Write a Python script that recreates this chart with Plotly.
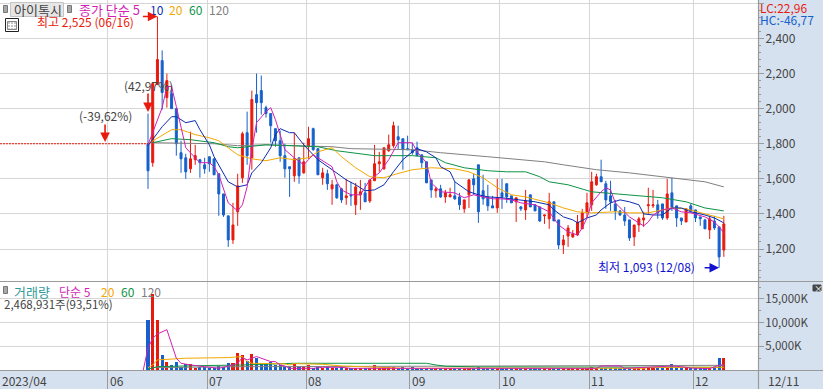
import plotly.graph_objects as go

# ---------- candles (daily prices, first candle = index 0) ----------
open_ = [1800,1692,2137,2274,2063,2086,2000,1749,1720,1657,
         1709,1709,1680,1726,1714,1629,1514,1389,1252,1412,
         1606,1863,1720,2080,2103,2006,1972,1886,1817,1732,
         1669,1617,1720,1634,1783,1886,1772,1606,1629,1543,
         1566,1543,1492,1509,1452,1509,1520,1474,1589,1686,
         1657,1760,1789,1840,1829,1772,1766,1777,1737,1697,
         1594,1532,1543,1497,1497,1503,1497,1429,1509,1600,
         1680,1532,1497,1446,1434,1520,1572,1503,1469,1440,
         1423,1509,1452,1440,1389,1372,1469,1366,1223,1274,
         1269,1280,1315,1412,1452,1566,1612,1572,1503,1457,
         1417,1394,1366,1269,1337,1366,1446,1446,1452,1457,
         1377,1520,1446,1377,1354,1446,1423,1383,1366,1309,
         1360,1326,1194]
high = [1972,2143,2525,2332,2200,2132,2000,1817,1743,1869,
        1794,1714,1720,1726,1714,1629,1514,1389,1463,1629,
        1869,1983,2103,2200,2189,2017,1972,1886,1875,1800,
        1669,1863,1720,1806,1897,1892,1772,1663,1652,1594,
        1572,1549,1600,1583,1577,1594,1577,1594,1794,1754,
        1777,1852,1926,1903,1829,1846,1806,1812,1737,1697,
        1594,1554,1566,1537,1549,1583,1520,1480,1600,1629,
        1680,1623,1566,1503,1600,1600,1572,1503,1492,1446,
        1537,1509,1452,1440,1394,1520,1469,1366,1280,1337,
        1309,1394,1429,1520,1640,1629,1709,1589,1589,1480,
        1423,1440,1366,1337,1383,1412,1549,1537,1480,1457,
        1600,1606,1446,1377,1434,1457,1423,1383,1372,1389,
        1389,1326,1389]
low = [1543,1669,2137,1994,2006,2000,1732,1634,1600,1634,
       1680,1606,1629,1640,1623,1389,1383,1212,1229,1332,
       1577,1680,1652,1863,1966,1949,1806,1783,1697,1606,
       1497,1583,1572,1629,1714,1760,1623,1566,1537,1452,
       1486,1463,1452,1446,1394,1423,1469,1463,1589,1640,
       1652,1754,1777,1766,1652,1766,1737,1732,1663,1577,
       1492,1492,1492,1463,1497,1480,1423,1406,1434,1509,
       1349,1452,1417,1434,1406,1429,1463,1463,1354,1417,
       1366,1440,1417,1354,1343,1315,1360,1200,1172,1212,
       1263,1274,1315,1377,1417,1560,1583,1429,1417,1366,
       1389,1332,1246,1217,1297,1326,1400,1434,1372,1366,
       1366,1417,1326,1337,1354,1406,1354,1332,1315,1257,
       1309,1093,1155]
close = [1646,2143,2280,2092,2160,2000,1800,1714,1640,1714,
         1732,1692,1657,1686,1623,1514,1394,1252,1337,1560,
         1857,1732,2052,2034,2034,1972,1903,1817,1732,1657,
         1657,1714,1617,1697,1829,1766,1623,1634,1572,1566,
         1492,1480,1503,1503,1554,1526,1469,1594,1686,1697,
         1777,1794,1903,1823,1766,1766,1749,1732,1692,1577,
         1537,1543,1497,1520,1509,1486,1452,1480,1594,1566,
         1412,1486,1446,1434,1492,1497,1497,1463,1492,1429,
         1474,1440,1417,1360,1394,1469,1360,1223,1252,1320,
         1286,1354,1406,1463,1583,1612,1583,1480,1469,1417,
         1394,1360,1263,1337,1372,1377,1452,1452,1406,1377,
         1514,1440,1377,1360,1429,1417,1377,1372,1315,1372,
         1320,1155,1343]
volume_k = [10635,16000,10600,3190,1700,1060,1700,700,1200,1200,
            350,570,570,350,350,900,700,1500,1500,3600,
            3200,1900,3400,2600,1200,1200,1600,1060,1060,850,
            640,1200,700,700,1060,350,700,350,570,350,
            350,570,430,430,500,430,430,500,1060,500,
            570,570,570,430,570,500,570,430,430,430,
            350,350,350,280,350,350,350,350,430,430,
            570,430,350,350,430,350,350,280,350,280,
            280,280,280,350,280,280,280,350,280,280,
            280,280,280,500,700,500,500,350,350,350,
            350,350,280,280,350,350,500,500,350,350,
            350,1200,500,350,350,500,350,280,280,430,
            430,2500,2469]

# ---------- price moving averages ----------
ma5_i = [0,1,2,3,4,5,6,7,8,10,11,13,14,15,16,17,19,20,21,22,23,24,25,26,27,28,29,31,33,34,35,36,39,40,41,43,45,47,49,51,52,53,56,57,59,60,62,65,67,69,71,73,75,77,79,82,85,86,87,89,91,92,93,94,96,97,98,99,101,102,104,105,106,107,109,111,113,115,118,120,121,122]
ma5_v = [1794,1863,1937,2006,2126,2126,2012,1897,1777,1720,1692,1692,1669,1623,1537,1463,1417,1452,1554,1766,1920,1954,1983,2006,1937,1852,1766,1720,1680,1709,1737,1720,1669,1583,1537,1509,1509,1594,1634,1709,1754,1806,1806,1754,1692,1577,1526,1520,1492,1509,1497,1486,1486,1480,1463,1452,1412,1377,1337,1297,1280,1320,1377,1463,1526,1549,1537,1463,1406,1383,1349,1332,1354,1394,1423,1434,1412,1406,1383,1354,1326,1292]
ma10_i = [0,1,3,5,6,8,10,11,13,14,16,17,19,21,22,24,26,27,28,30,31,33,35,36,39,42,44,46,48,50,52,54,56,57,59,61,62,64,65,68,70,72,75,79,82,85,86,88,90,91,93,95,96,98,100,102,104,105,107,109,111,113,115,118,120,122]
ma10_v = [1789,1823,1897,1954,1954,1920,1932,1880,1794,1726,1634,1583,1554,1566,1634,1692,1777,1852,1886,1863,1863,1794,1737,1709,1652,1594,1566,1532,1537,1566,1640,1709,1754,1772,1754,1720,1669,1640,1583,1526,1509,1497,1492,1480,1469,1452,1423,1383,1366,1349,1377,1394,1423,1463,1480,1469,1452,1400,1394,1394,1434,1434,1412,1394,1377,1349]
ma20_i = [0,3,5,7,10,13,15,17,19,22,25,28,31,34,36,39,41,44,47,50,52,56,60,65,68,71,74,77,80,85,88,91,94,99,102,106,111,114,118,122]
ma20_v = [1800,1846,1880,1880,1852,1834,1817,1777,1737,1714,1703,1720,1709,1720,1754,1777,1726,1663,1612,1606,1623,1652,1663,1657,1640,1606,1549,1509,1497,1463,1434,1412,1406,1412,1406,1406,1434,1429,1400,1372]
ma60_i = [1,5,9,14,17,19,25,31,36,40,43,48,56,61,63,67,72,76,80,83,85,89,94,102,109,114,118,122]
ma60_v = [1806,1829,1823,1806,1783,1777,1794,1789,1783,1760,1749,1732,1732,1720,1692,1663,1646,1640,1640,1612,1583,1566,1526,1509,1492,1469,1434,1417]
ma120_i = [1,14,19,25,39,43,56,62,72,79,84,88,95,102,111,118,122]
ma120_v = [1806,1800,1789,1794,1783,1772,1766,1749,1726,1709,1697,1680,1652,1634,1606,1583,1554]

# ---------- volume moving averages (thousand shares) ----------
vma5_i = [-1,0,1,2,4,5,6,7,9,12,15,18,19,20,21,23,25,26,27,28,29,30,35,37,41,43,60,75,95,96,100,101,111,113,115,119,121,122]
vma5_v = [0,4600,6700,7600,8500,5670,2480,1420,1060,700,350,1060,1420,2620,2130,2840,2130,1770,1770,1060,850,350,350,570,570,350,350,350,350,840,840,350,840,700,400,300,1000,1050]
vma20_i = [0,1,2,5,8,17,20,21,22,29,30,31,37,41,48,53,55,70,105,106,122]
vma20_v = [500,1060,2130,2340,2480,2620,2840,1770,1420,1280,1060,1350,1200,850,570,500,350,400,350,570,570]
vma60_i = [0,2,10,20,31,59,61,63,70,122]
vma60_v = [200,700,900,1060,1420,1420,1060,800,650,570]
vma120_i = [1,20,60,122]
vma120_v = [500,700,800,990]

# ---------- axis labels ----------
month_first_index = [-8, 13, 34, 56, 75, 94, 116]
month_labels = ["06", "07", "08", "09", "10", "11", "12"]
first_label = "2023/04"
last_label = "12/11"
base_price = 1800
vol_tick_vals = [5000, 10000, 15000]
vol_tick_text = ["5,000K", "10,000K", "15,000K"]

RED, BLUE = "#e81a0e", "#1560cc"
MAG, NAVY, ORG, GRN, GRY = "#d21fb4", "#0b2cae", "#f2a900", "#0d9444", "#808080"
GRID, FRAME, TXT = "#d6d6d6", "#9a9a9a", "#444444"
BAND = "#d6e1ef"
FONT = "Noto Sans CJK KR, Liberation Sans"

W, H, PW, PH = 823, 389, 758, 370
STEP = 4.72
X0 = 148

def X(p): return p / PW
def Y(p): return (PH - p) / PH

idx = list(range(len(close)))
x_range = [-X0 / STEP, (PW - X0) / STEP]
month_ticks = [m - 0.5 for m in month_first_index]

fig = go.Figure()
fig.add_trace(go.Scatter(x=[x_range[0], 0], y=[base_price, base_price], mode="lines",
                         line=dict(color=RED, width=1, dash="2px,1px"), xaxis="x", yaxis="y", showlegend=False))
fig.add_trace(go.Candlestick(x=idx, open=open_, high=high, low=low, close=close, whiskerwidth=0,
                             increasing=dict(line=dict(color=RED, width=1), fillcolor=RED),
                             decreasing=dict(line=dict(color=BLUE, width=1), fillcolor=BLUE),
                             xaxis="x", yaxis="y", showlegend=False))
for xs, ys, c in [(ma120_i, ma120_v, GRY), (ma60_i, ma60_v, GRN), (ma20_i, ma20_v, ORG),
                  (ma10_i, ma10_v, NAVY), (ma5_i, ma5_v, MAG)]:
    fig.add_trace(go.Scatter(x=xs, y=ys, mode="lines", line=dict(color=c, width=1),
                             xaxis="x", yaxis="y", showlegend=False))

bar_colors = [RED if c >= o else BLUE for o, c in zip(open_, close)]
fig.add_trace(go.Bar(x=idx, y=volume_k, width=0.66, marker=dict(color=bar_colors, line_width=0),
                     xaxis="x2", yaxis="y2", showlegend=False))
for xs, ys, c in [(vma120_i, vma120_v, GRY), (vma60_i, vma60_v, GRN),
                  (vma20_i, vma20_v, ORG), (vma5_i, vma5_v, MAG)]:
    fig.add_trace(go.Scatter(x=xs, y=ys, mode="lines", line=dict(color=c, width=1),
                             xaxis="x2", yaxis="y2", showlegend=False))

def text(s, x, y, color=TXT, size=12):
    return dict(text=s, x=X(x), y=Y(y), xref="paper", yref="paper", showarrow=False,
                xanchor="left", yanchor="middle", borderpad=0, borderwidth=0,
                font=dict(family=FONT, size=size, color=color))

def arrow(i, v, ax, ay, color):
    return dict(x=i, y=v, xref="x", yref="y", ax=ax, ay=ay, text="", showarrow=True,
                arrowhead=2, arrowsize=1.2, arrowwidth=1.6, arrowcolor=color)

ann = [
    text("아이톡시", 14, 10, size=13),
    text("종가 단순 5", 79, 10, MAG, 13), text("10", 150, 10, NAVY), text("20", 169, 10, ORG),
    text("60", 189, 10, GRN), text("120", 209, 10, GRY),
    text("최고 2,525 (06/16)", 37, 22, RED),
    text("(42,97%)", 124, 85), text("(-39,62%)", 79, 115),
    text("최저 1,093 (12/08)", 598, 266, "#1010d0"),
    text("거래량", 14, 291, "#2f9a9a", 13), text("단순 5", 59, 291, MAG), text("20", 101, 291, ORG),
    text("60", 121, 291, GRN), text("120", 141, 291, GRY),
    text("2,468,931주(93,51%)", 4, 304, size=11.5),
    text("LC:22,96", 760, 7, RED), text("HC:-46,77", 760, 19, BLUE),
    text(first_label, 2, 380), text(last_label, 768, 380),
    text("×", 814, 288, "#ffffff", 9),
    arrow(2, 2525, -16, 0, RED), arrow(0, 1981, 0, -20, RED),
    arrow(-9.1, 1810, 0, -19, RED), arrow(121, 1093, -16, 0, "#1010d0"),
]
for m, lab in zip(month_ticks, month_labels):
    a = text(lab, 0, 380)
    a["x"] = X(X0 + STEP * m + 2)
    ann.append(a)

def rect(x0, y0, x1, y1, fill, line=None, lw=1):
    return dict(type="rect", xref="paper", yref="paper", x0=X(x0), x1=X(x1), y0=Y(y0), y1=Y(y1),
                fillcolor=fill, line=dict(color=line or fill, width=lw), layer="above")

def hline(x0, x1, y, color, lw=1):
    return dict(type="line", xref="paper", yref="paper", x0=X(x0), x1=X(x1), y0=Y(y), y1=Y(y),
                line=dict(color=color, width=lw), layer="above")

def vline(x, y0, y1, color, lw=1):
    return dict(type="line", xref="paper", yref="paper", x0=X(x), x1=X(x), y0=Y(y0), y1=Y(y1),
                line=dict(color=color, width=lw), layer="above")

shapes = [
    rect(10.5, 2.5, 63.5, 16.5, "#e6e6e6", "#c4c4c4"),
    rect(3.5, 5.5, 7.5, 12.5, "#a8a8a8", "#777777"),
    rect(67.5, 5.5, 71.5, 12.5, "#a8a8a8", "#777777"),
    rect(3.5, 286.5, 7.5, 293.5, "#a8a8a8", "#777777"),
    rect(5.5, 18.5, 18.5, 31.5, "#ffffff", "#222222"),
    rect(7.5, 21.5, 16.5, 29.5, "#c8c8c8", "#888888"),
    hline(8, 16, 24.5, "#ffffff"), hline(8, 16, 27.5, "#ffffff"),
    vline(10.5, 22, 29, "#ffffff"), vline(13.5, 22, 29, "#ffffff"),
    hline(0, W, 281.5, FRAME, 1.2), hline(0, W, 370.5, FRAME, 1.2),
    rect(813, 285, 821, 291, "#444444"),
    vline(758.5, 0, H, FRAME, 1.2),
]

fig.update_layout(
    width=W, height=H, autosize=False, boxgap=0.4,
    margin=dict(l=0, r=W - PW, t=0, b=H - PH, pad=0),
    paper_bgcolor=BAND, plot_bgcolor="#ffffff", showlegend=False, bargap=0,
    annotations=ann, shapes=shapes,
    xaxis=dict(domain=[0, 1], anchor="y", range=x_range, tickmode="array", tickvals=month_ticks,
               showticklabels=False, ticks="", gridcolor=GRID, gridwidth=1, zeroline=False,
               rangeslider=dict(visible=False), showline=False),
    xaxis2=dict(domain=[0, 1], anchor="y2", range=x_range, tickmode="array", tickvals=month_ticks,
                showticklabels=False, ticks="outside", ticklen=19, tickcolor=FRAME, tickwidth=1,
                gridcolor=GRID, gridwidth=1, zeroline=False, showline=False),
    yaxis=dict(domain=[Y(281), 1], anchor="x", side="right", range=[1017.6, 2619.4],
               tick0=0, dtick=200, tickformat=",d", ticks="outside", ticklen=5, tickcolor=FRAME,
               gridcolor=GRID, gridwidth=1, zeroline=False, showline=False, ticklabelstandoff=-1,
               tickfont=dict(family=FONT, size=12, color=TXT),
               minor=dict(dtick=40, tick0=0, ticks="outside", ticklen=2, tickcolor=FRAME, showgrid=False)),
    yaxis2=dict(domain=[0, Y(282)], anchor="x2", side="right", range=[0, 18565],
                tickmode="array", tickvals=vol_tick_vals, ticktext=vol_tick_text,
                ticks="outside", ticklen=5, tickcolor=FRAME,
                gridcolor=GRID, gridwidth=1, zeroline=False, showline=False, ticklabelstandoff=-1,
                tickfont=dict(family=FONT, size=11.5, color=TXT),
                minor=dict(tickmode="array", tickvals=[2500, 7500, 12500, 17500], ticks="outside",
                           ticklen=2, tickcolor=FRAME, showgrid=False)),
)
fig.write_html("out.html", config=dict(displayModeBar=False),
               post_script="document.body.style.margin='0';document.body.style.overflow='hidden';")
